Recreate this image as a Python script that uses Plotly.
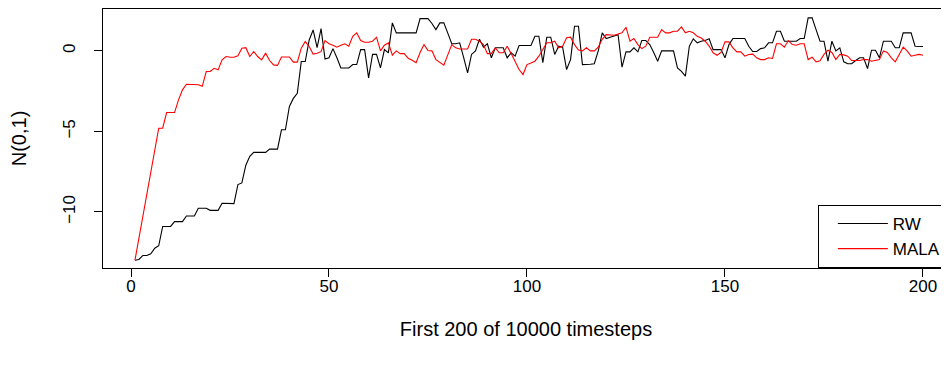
import plotly.graph_objects as go

timesteps = list(range(1, 201))

rw = [
    -13.0, -12.95, -12.7, -12.7, -12.6, -12.25, -12.1, -10.9, -10.9, -10.9,
    -10.6, -10.6, -10.6, -10.25, -10.25, -10.25, -9.77, -9.77, -9.77, -9.9,
    -9.9, -9.9, -9.46, -9.48, -9.48, -9.48, -8.3, -8.2, -7.1, -6.55,
    -6.3, -6.3, -6.3, -6.3, -6.1, -6.1, -6.1, -4.9, -4.9, -3.45,
    -2.95, -2.63, -0.66, -0.66, 0.68, 1.3, 0.2, 1.38, -0.5, -0.43,
    0.14, -0.43, -1.06, -1.06, -1.06, -0.85, -0.85, 0.08, 0.08, -1.68,
    -0.22, -0.22, -1.06, 0.08, -0.12, 1.74, 1.12, 1.12, 1.12, 1.12,
    1.12, 1.12, 2.0, 2.0, 2.0, 1.7, 1.32, 1.74, 1.74, 1.1,
    0.44, 0.44, 0.5, -0.4, -1.37, -0.22, 0.0, 0.72, 0.23, 0.44,
    -0.43, 0.19, 0.19, 0.19, -0.43, -0.12, -0.33, 0.33, 0.33, 0.33,
    0.33, 0.91, 0.91, -0.73, 0.85, 0.85, -0.22, 0.29, 0.23, -1.16,
    -0.54, 1.53, 1.53, -0.85, -0.85, -0.83, -0.8, 0.0, 1.12, 0.77,
    0.85, 0.91, 1.01, -1.01, -0.06, -0.06, 0.19, -0.06, 0.64, 0.64,
    0.39, -0.1, -0.64, 0.0, 0.0, 0.0, 0.0, -1.06, -1.27, -1.57,
    0.29, 0.75, 0.5, 0.6, 0.65, 0.75, 0.08, 0.08, 0.08, -0.43,
    0.39, 0.77, 0.77, 0.77, 0.77, 0.29, -0.04, -0.04, 0.14, 0.19,
    0.5, 0.5, 1.22, 1.22, 0.6, 0.6, 0.6, 0.6, 0.77, 0.77,
    2.05, 2.05, 1.32, 0.6, 0.6, -0.64, 0.6, 0.0, 0.19, -0.68,
    -0.8, -0.8, -0.6, -0.43, -0.43, -1.1, 0.04, 0.04, -0.43, 0.6,
    0.6, 0.6, 0.19, 0.19, 1.12, 1.12, 1.12, 0.29, 0.29, 0.27,
]

mala = [
    -13.0, -11.6, -10.3, -8.9, -7.5, -6.2, -4.8, -4.8, -3.83, -3.83,
    -3.83, -3.04, -2.42, -2.07, -2.07, -2.07, -2.1, -2.2, -1.28, -1.28,
    -1.08, -1.18, -0.56, -0.35, -0.4, -0.4, -0.3, 0.17, 0.2, -0.35,
    -0.04, -0.35, -0.56, -0.14, -0.6, -0.87, -0.9, -0.38, -0.38, -0.38,
    -0.7, -0.7, 0.17, 0.58, 0.27, -0.2, -0.15, -0.05, 0.64, 0.44,
    0.35, 0.23, 0.35, 0.44, 0.29, 0.91, 1.12, 0.64, 0.54, 0.54,
    0.6, 0.85, 0.0, 0.35, 0.5, -0.27, 0.0, -0.17, -0.17, -0.46,
    -0.58, -0.73, -0.1, 0.39, 0.02, 0.0, -0.54, -0.7, -0.89, -0.25,
    0.39, 0.19, 0.12, 0.12, 0.12, 0.72, 0.72, 0.6, 0.39, -0.17,
    -0.17, 0.19, -0.12, -0.12, 0.29, -0.17, -0.64, -1.16, -1.47, -0.85,
    -0.75, -0.64, -0.33, 0.08, 0.5, 0.5, 0.6, 0.19, 0.29, 0.81,
    0.85, 0.39, 0.05, 0.0, 0.19, 0.0, 0.0, 0.23, 0.72, 1.01,
    1.01, 0.97, 1.05, 1.12, 1.47, 0.6, 0.77, 0.39, 0.14, 0.29,
    0.85, 0.85, 0.85, 1.32, 1.12, 1.12, 1.22, 1.22, 1.49, 1.12,
    1.22, 1.12, 0.9, 0.8, 0.6, 0.3, -0.12, -0.27, -0.1, 0.56,
    0.56, 0.19, -0.06, -0.06, -0.33, -0.22, -0.2, -0.43, -0.54, -0.54,
    -0.43, -0.47, 0.44, 0.44, 0.23, 0.64, 0.39, 0.35, 0.44, 0.44,
    -0.54, -0.39, -0.68, -0.62, -0.22, 0.04, -0.1, -0.54, -0.22, -0.25,
    -0.33, -0.6, -0.6, -0.6, -0.54, -0.54, -0.64, -0.6, -0.54, 0.0,
    -0.1, -0.43, -0.68, -0.22, 0.23, 0.0, -0.33, -0.27, -0.22, -0.27,
]

x_ticks = [0, 50, 100, 150, 200]
y_ticks = [-10, -5, 0]
y_tick_labels = ["\u221210", "\u22125", "0"]

FONT = "Liberation Sans, Arial, sans-serif"
FS = 17

fig = go.Figure()
fig.add_trace(go.Scatter(x=timesteps, y=rw, mode="lines", name="RW",
                         line=dict(color="#000000", width=1.1)))
fig.add_trace(go.Scatter(x=timesteps, y=mala, mode="lines", name="MALA",
                         line=dict(color="#FF0000", width=1.1)))

# page body has an 8px margin, so the figure is sized to fit inside 949x367
fig.update_layout(
    width=941, height=359,
    margin=dict(l=95, r=0, t=1, b=99),
    paper_bgcolor="white", plot_bgcolor="white",
    font=dict(family=FONT, size=FS, color="black"),
    showlegend=True,
    legend=dict(
        x=0.845, xanchor="left", y=0, yanchor="bottom",
        bordercolor="black", borderwidth=1, bgcolor="white",
        font=dict(family=FONT, size=FS, color="black"),
        tracegroupgap=0, itemwidth=50, indentation=14,
    ),
)
fig.update_xaxes(
    range=[-7.07, 206.57], tickvals=x_ticks, ticks="outside", ticklen=8,
    tickcolor="black", tickwidth=1, showline=True, linecolor="black",
    linewidth=1, mirror=True, showgrid=False, zeroline=False,
    ticklabelstandoff=-5,
    title=dict(text="First 200 of 10000 timesteps", standoff=26),
    tickfont=dict(size=FS),
)
fig.update_yaxes(
    range=[-13.48, 2.6], tickvals=y_ticks, ticktext=y_tick_labels,
    ticks="outside", ticklen=8, tickcolor="black", tickwidth=1,
    showline=True, linecolor="black", linewidth=1, mirror=False,
    showgrid=False, zeroline=False, tickangle=-90,
    ticklabelstandoff=12,
    title=dict(text="N(0,1)", standoff=31),
    tickfont=dict(size=FS),
)

fig.write_html("out.html")
